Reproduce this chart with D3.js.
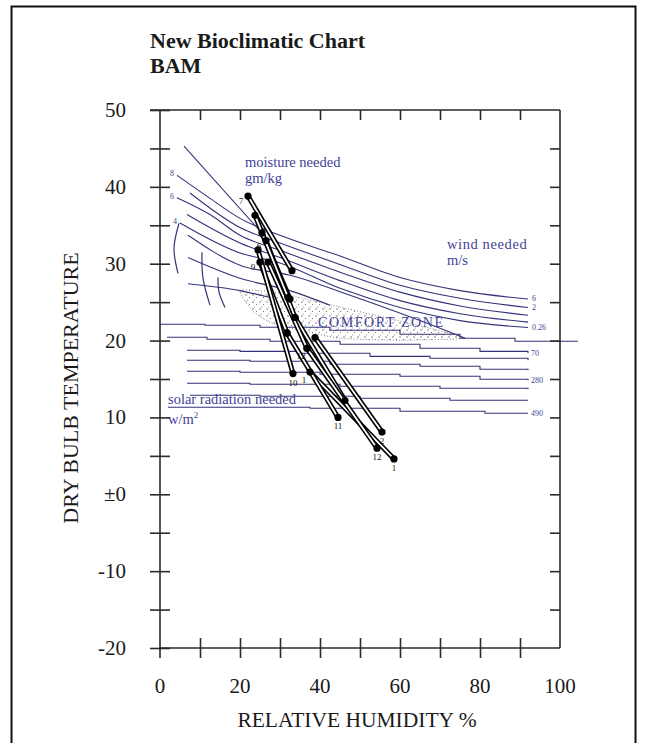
<!DOCTYPE html>
<html><head><meta charset="utf-8">
<script src="https://cdn.jsdelivr.net/npm/d3@7"></script>
<style>
html,body{margin:0;padding:0;background:#fff;}
svg{display:block;font-family:"Liberation Serif","Times New Roman",serif;}
</style></head>
<body>
<svg id="chart" width="647" height="743"></svg>
<script>
// ---------- data ----------
const months = [1,2,3,4,5,6,7,8,9,10,11,12];
const rhMin  = [37.5,38.75,33.75,27,25.5,26.5,22,23.75,25,24.5,31.75,36.75];
const tMax   = [15.9,20.4,23.0,30.2,34.0,33.0,38.8,36.3,30.2,31.8,21.0,19.0];
const rhMax  = [58.5,55.5,46.25,36.75,32.5,33.75,33,32,31.75,33.25,44.5,54.25];
const tMin   = [4.6,8.1,12.2,19.0,25.4,23.0,29.1,25.6,21.0,15.7,10.0,6.0];
// month labels: [month, end ('max'|'min')]
const monthLabels = [[7,'max'],[6,'max'],[9,'max'],[12,'max'],[1,'max'],[10,'min'],[11,'min'],[2,'min'],[12,'min'],[1,'min']];

const yTickValues = [50,40,30,20,10,0,-10,-20];
const yTickLabels = ["50","40","30","20","10","\u00B10","-10","-20"];
const xTickValues = [0,20,40,60,80,100];
const xTickLabels = ["0","20","40","60","80","100"];

// wind / moisture curves [RH, T]
const windCurves = [
  [[4.25,41.5],[12.5,38.5],[20,35.9],[30,33.7],[45,31.0],[60,28.2],[75,26.5],[92,25.4]],
  [[7.5,39.2],[20,34.7],[30,32.7],[45,29.9],[60,27.2],[75,25.5],[92,24.3]],
  [[4.25,38.6],[12.5,36.4],[20,33.7],[30,31.75],[45,28.9],[60,26.3],[75,24.5],[92,23.3]],
  [[6.75,36.4],[20,32.7],[30,30.8],[45,27.8],[60,25.2],[75,23.5],[92,22.4]],
  [[5,35.3],[20,31.4],[30,30.1],[45,26.8],[60,24.3],[75,22.6],[92,21.7]],
  [[7,33.7],[20,29.8],[32.5,28.5],[47.5,25.9],[65,22.6],[76.25,20.3]],
  [[7,30.8],[20,28.1],[32.5,26.5],[42.5,24.6]],
  [[7,27.4],[20,26.5],[27.5,25.6]]
];
const windLabels = [["6",0],["2",1],["0.26",4]];
const moistureLabels = [["8",0],["6",2],["4",4]];
const boundaryLine = [[6,45.3],[27,33.1]];
const arcs = [
  [[4.75,35.26],[3.5,32.0],[4.5,28.75]],
  [[10.5,31.5],[10.75,28.1],[12.5,24.6]],
  [[14.5,28.2],[14.75,26.3],[16.25,24.3]]
];
const comfortZone = [[20,26.54],[28.75,26.28],[40,24.98],[55,23.16],[67.5,21.6],[76.25,20.3],
  [60,20.04],[45,20.3],[35,21.34],[27.5,22.38],[23,23.94]];
// solar radiation lines (stepped)
const solarLines = [
  [[0,22.12],[11.25,21.99],[25,21.73],[42.5,21.34],[60,20.82],[75,20.30],[88.75,19.91],[104.5,19.91]],
  [[1.75,20.43],[11.75,20.17],[27.5,19.91],[45,19.52],[65,19.0],[80,18.6],[92,18.35]],
  [[6.75,18.74],[20,18.6],[35,18.35],[52.5,17.95],[67.5,17.7],[92,17.43]],
  [[6.75,17.43],[22.5,17.3],[42.5,16.91],[65,16.65],[80,16.26],[92,16.13]],
  [[6.75,16.0],[20,15.87],[40,15.61],[60,15.35],[80,14.96],[92,14.83]],
  [[6.75,14.44],[22.5,14.31],[45,14.05],[70,13.79],[92,13.66]],
  [[7.5,12.88],[25,12.75],[50,12.49],[72.5,12.23],[92,12.23]],
  [[2,11.32],[37.5,11.19],[60,10.8],[81.25,10.54],[92,10.54]]
];
const solarLabels = [["70",1],["280",4],["490",7]];

// ---------- setup ----------
const svg = d3.select("#chart");
const x = d3.scaleLinear().domain([0,100]).range([160,560]);
const y = d3.scaleLinear().domain([-20,50]).range([648,110]);
const BLUE = "#33337a", BLUE_T = "#3f3f96", AX = "#2a2a2a";

// outer frame
svg.append("rect").attr("x",11.5).attr("y",6.5).attr("width",624).attr("height",760)
  .attr("fill","none").attr("stroke","#111").attr("stroke-width",2);

const defs = svg.append("defs");
const pat = defs.append("pattern").attr("id","stip").attr("patternUnits","userSpaceOnUse")
  .attr("width",7).attr("height",7);
pat.append("circle").attr("cx",1).attr("cy",1).attr("r",0.7).attr("fill","#555");
pat.append("circle").attr("cx",4.5).attr("cy",3.5).attr("r",0.6).attr("fill","#666");
pat.append("circle").attr("cx",2.5).attr("cy",6).attr("r",0.5).attr("fill","#777");

// title
svg.append("text").attr("x",150).attr("y",48).attr("font-size",22).attr("font-weight","bold").attr("fill","#1a1a1a")
  .text("New Bioclimatic Chart");
svg.append("text").attr("x",150).attr("y",73).attr("font-size",22).attr("font-weight","bold").attr("fill","#1a1a1a")
  .text("BAM");

// comfort zone
const lineLin = d3.line().x(d=>x(d[0])).y(d=>y(d[1]));
svg.append("path").datum(comfortZone)
  .attr("d", d3.line().x(d=>x(d[0])).y(d=>y(d[1])).curve(d3.curveCardinalClosed.tension(0.5)))
  .attr("fill","url(#stip)").attr("stroke","#666").attr("stroke-width",0.8).attr("stroke-dasharray","1,2");

// wind curves
const smooth = d3.line().x(d=>x(d[0])).y(d=>y(d[1])).curve(d3.curveMonotoneX);
svg.append("g").selectAll("path").data(windCurves).join("path")
  .attr("d",smooth).attr("fill","none").attr("stroke",BLUE).attr("stroke-width",1.1);
svg.append("path").datum(boundaryLine).attr("d",lineLin).attr("fill","none")
  .attr("stroke",BLUE).attr("stroke-width",1.1);
const arcLine = d3.line().x(d=>x(d[0])).y(d=>y(d[1])).curve(d3.curveNatural);
svg.append("g").selectAll("path").data(arcs).join("path")
  .attr("d",arcLine).attr("fill","none").attr("stroke",BLUE).attr("stroke-width",1.2);

// solar lines
const step = d3.line().x(d=>x(d[0])).y(d=>y(d[1])).curve(d3.curveStepAfter);
svg.append("g").selectAll("path").data(solarLines).join("path")
  .attr("d",step).attr("fill","none").attr("stroke",BLUE).attr("stroke-width",1.1);

// small labels
const small = svg.append("g").attr("font-size",8).attr("fill",BLUE_T);
windLabels.forEach(([t,i])=>{
  const p = windCurves[i][windCurves[i].length-1];
  small.append("text").attr("x",x(p[0])+4).attr("y",y(p[1])+2).text(t);
});
solarLabels.forEach(([t,i])=>{
  const p = solarLines[i][solarLines[i].length-1];
  small.append("text").attr("x",x(p[0])+3).attr("y",y(p[1])+3).text(t);
});
moistureLabels.forEach(([t,i])=>{
  const p = windCurves[i][0];
  small.append("text").attr("x",x(p[0])-3).attr("y",y(p[1])+1).attr("text-anchor","end").text(t);
});

// blue annotations
const ann = svg.append("g").attr("font-size",14.5).attr("fill",BLUE_T);
ann.append("text").attr("x",245).attr("y",167).text("moisture needed");
ann.append("text").attr("x",245).attr("y",183).text("gm/kg");
ann.append("text").attr("x",447).attr("y",249).attr("letter-spacing",0.6).text("wind needed");
ann.append("text").attr("x",447).attr("y",265).text("m/s");
ann.append("text").attr("x",168).attr("y",404).text("solar radiation needed");
const wm = ann.append("text").attr("x",168).attr("y",424).text("w/m");
wm.append("tspan").attr("dy",-6).attr("font-size",9).text("2");
ann.append("text").attr("x",318).attr("y",327).attr("font-size",14).attr("letter-spacing",1.6).text("COMFORT ZONE");

// month segments
const mg = svg.append("g");
months.forEach((m,i)=>{
  const seg = [[rhMin[i],tMax[i]],[rhMax[i],tMin[i]]];
  mg.append("path").datum(seg).attr("d",lineLin).attr("stroke","#000").attr("stroke-width",5).attr("fill","none");
  mg.append("path").datum(seg).attr("d",lineLin).attr("stroke","#fff").attr("stroke-width",1.8).attr("fill","none");
});
months.forEach((m,i)=>{
  mg.append("circle").attr("cx",x(rhMin[i])).attr("cy",y(tMax[i])).attr("r",3.6).attr("fill","#000");
  mg.append("circle").attr("cx",x(rhMax[i])).attr("cy",y(tMin[i])).attr("r",3.6).attr("fill","#000");
});
const ml = svg.append("g").attr("font-size",9).attr("fill","#111").attr("text-anchor","middle");
monthLabels.forEach(([m,end])=>{
  const i = m-1;
  const px = end==='max' ? x(rhMin[i]) : x(rhMax[i]);
  const py = end==='max' ? y(tMax[i]) : y(tMin[i]);
  if (end==='max' && (m===7||m===6||m===9)) {
    ml.append("text").attr("x",px-7).attr("y",py+8).text(m);
  } else if (end==='max') {
    ml.append("text").attr("x",px-6).attr("y",py+11).text(m);
  } else {
    ml.append("text").attr("x",px).attr("y",py+12).text(m);
  }
});

// ---------- axes ----------
const axG = svg.append("g").attr("stroke",AX).attr("stroke-width",1.6).attr("fill","none");
axG.append("line").attr("x1",x(0)).attr("x2",x(0)).attr("y1",y(50)).attr("y2",y(-20)+10);
axG.append("line").attr("x1",x(0)-10).attr("x2",x(100)).attr("y1",y(50)).attr("y2",y(50));
axG.append("line").attr("x1",x(100)).attr("x2",x(100)).attr("y1",y(50)).attr("y2",y(-20));
axG.append("line").attr("x1",x(0)).attr("x2",x(100)).attr("y1",y(-20)).attr("y2",y(-20));

const yTicks = d3.range(-20,51,5);
const xTicks = d3.range(10,100,10);
// left ticks crossing
svg.append("g").attr("transform",`translate(${x(0)},0)`)
  .call(d3.axisLeft(y).tickValues(yTicks).tickSizeInner(-10).tickSizeOuter(0).tickFormat(""))
  .call(g=>g.select(".domain").remove())
  .call(g=>g.selectAll("line").attr("stroke",AX).attr("stroke-width",1.6).attr("x1",-10));
// right ticks inward
svg.append("g").attr("transform",`translate(${x(100)},0)`)
  .call(d3.axisRight(y).tickValues(yTicks.filter(v=>v>-20&&v<50)).tickSizeInner(-10).tickSizeOuter(0).tickFormat(""))
  .call(g=>g.select(".domain").remove())
  .call(g=>g.selectAll("line").attr("stroke",AX).attr("stroke-width",1.6));
// top ticks inward
svg.append("g").attr("transform",`translate(0,${y(50)})`)
  .call(d3.axisTop(x).tickValues(xTicks).tickSizeInner(-10).tickSizeOuter(0).tickFormat(""))
  .call(g=>g.select(".domain").remove())
  .call(g=>g.selectAll("line").attr("stroke",AX).attr("stroke-width",1.6));
// bottom ticks crossing
svg.append("g").attr("transform",`translate(0,${y(-20)})`)
  .call(d3.axisBottom(x).tickValues(xTicks).tickSizeInner(10).tickSizeOuter(0).tickFormat(""))
  .call(g=>g.select(".domain").remove())
  .call(g=>g.selectAll("line").attr("stroke",AX).attr("stroke-width",1.6).attr("y1",-10));

// tick labels
const tl = svg.append("g").attr("font-size",21).attr("fill","#1a1a1a");
yTickValues.forEach((v,i)=>{
  tl.append("text").attr("x",126).attr("y",y(v)+7).attr("text-anchor","end").text(yTickLabels[i]);
});
xTickValues.forEach((v,i)=>{
  tl.append("text").attr("x",x(v)).attr("y",693).attr("text-anchor","middle").text(xTickLabels[i]);
});

// axis titles
svg.append("text").attr("x",357).attr("y",727).attr("text-anchor","middle")
  .attr("font-size",21.5).attr("fill","#1a1a1a").text("RELATIVE HUMIDITY %");
svg.append("text").attr("transform","translate(78,388) rotate(-90)").attr("text-anchor","middle")
  .attr("font-size",22).attr("fill","#1a1a1a").text("DRY BULB TEMPERATURE");
</script>
</body></html>
